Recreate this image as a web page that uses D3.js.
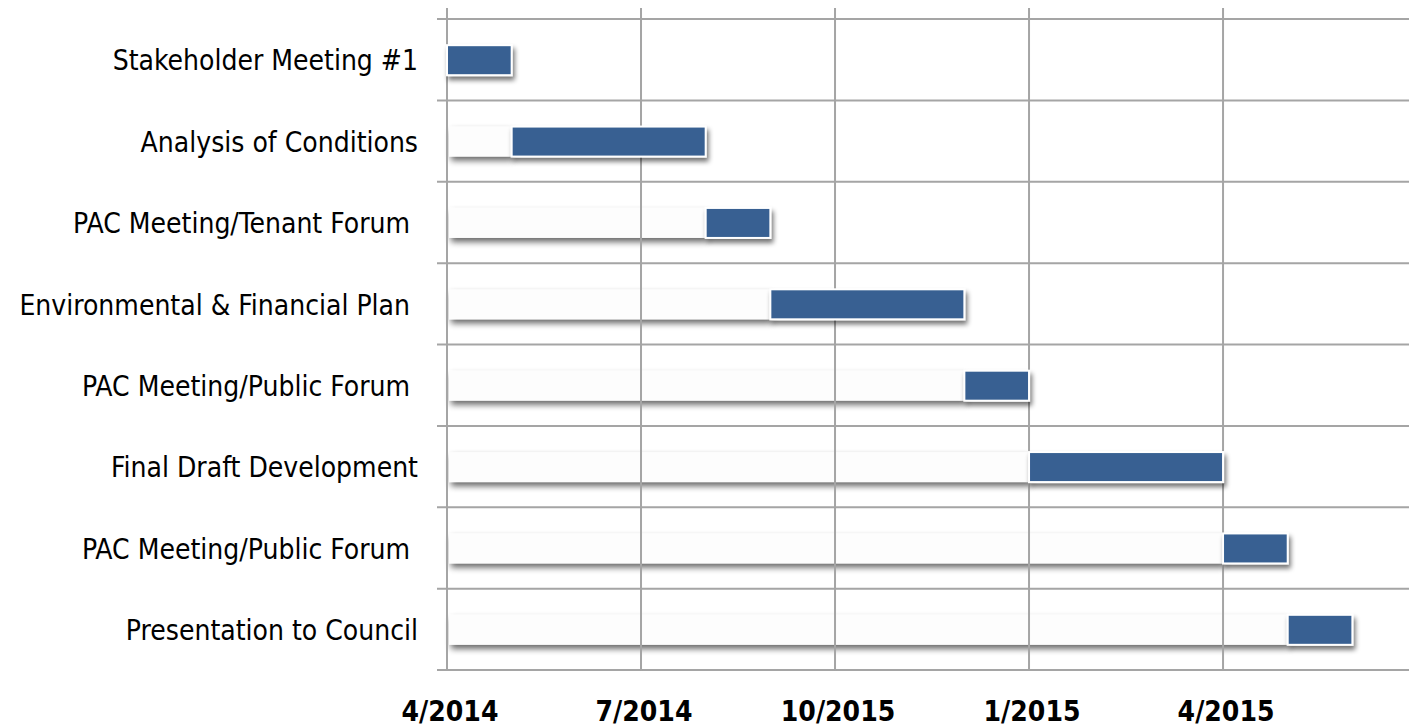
<!DOCTYPE html>
<html>
<head>
<meta charset="utf-8">
<script src="https://cdn.jsdelivr.net/npm/d3@7"></script>
<style>
  body { margin: 0; background: #fff; }
  text { white-space: pre; }
</style>
</head>
<body>
<div id="chart"></div>
<script>
// gantt chart of the plan schedule, months counted from 4/2014

const tasks = [
    "Stakeholder Meeting #1",
    "Analysis of Conditions",
    "PAC Meeting/Tenant Forum ",
    "Environmental & Financial Plan ",
    "PAC Meeting/Public Forum ",
    "Final Draft Development",
    "PAC Meeting/Public Forum ",
    "Presentation to Council"
];
const startMonth = [0, 1, 4, 5, 8, 9, 12, 13];
const durationMonths = [1, 3, 1, 3, 1, 3, 1, 1];
const tickMonths = [0, 3, 6, 9, 12];
const tickLabels = ["4/2014", "7/2014", "10/2015", "1/2015", "4/2015"];

const width = 1409, height = 727;
const margin = { top: 19, left: 447, bottom: 57 };

let svg = d3.select('#chart')
    .append('svg')
    .attr('width', width)
    .attr('height', height);

// drop shadows: one for the blue bars, a softer one for the empty lead-in bars
let defs = svg.append('defs');
function addShadow(id, blur, dy, alpha) {
    let f = defs.append('filter')
        .attr('id', id)
        .attr('x', '-10%').attr('y', '-50%')
        .attr('width', '130%').attr('height', '220%');
    f.append('feGaussianBlur').attr('in', 'SourceAlpha').attr('stdDeviation', blur);
    f.append('feOffset').attr('dx', 2).attr('dy', dy);
    f.append('feComponentTransfer').append('feFuncA').attr('type', 'linear').attr('slope', alpha);
    let merge = f.append('feMerge');
    merge.append('feMergeNode');
    merge.append('feMergeNode').attr('in', 'SourceGraphic');
}
addShadow('shadow', 2.5, 3.5, 0.55);
addShadow('shadow-lead', 3.2, 4, 0.6);

let xScale = d3.scaleLinear()
    .domain([0, 15])
    .range([margin.left, margin.left + 15 * 64.67]);

let yScale = d3.scaleBand()
    .domain(d3.range(tasks.length))
    .range([margin.top, height - margin.bottom])
    .paddingInner(0);

const barH = 30;
let rowY = i => yScale(i) + yScale.bandwidth() / 2 - barH / 2 + 0.5;

//Empty lead-in bars: only their shadow really shows
let lead = startMonth
    .map((s, i) => ({ i: i, s: s }))
    .filter(d => d.s > 0);

svg.append('g')
    .selectAll('rect')
    .data(lead)
    .join('rect')
    .attr('x', xScale(0) + 2)
    .attr('y', d => rowY(d.i))
    .attr('width', d => xScale(d.s) - xScale(0) - 2)
    .attr('height', barH)
    .attr('fill', '#fdfdfd')
    .attr('filter', 'url(#shadow-lead)');

//Grid lines
let grid = svg.append('g').attr('stroke', '#a5a5a5').attr('stroke-width', 2);
let bottomY = yScale(tasks.length - 1) + yScale.bandwidth();

grid.selectAll('line.h')
    .data(d3.range(tasks.length + 1))
    .join('line')
    .attr('class', 'h')
    .attr('x1', xScale(0) - 10)
    .attr('x2', width)
    .attr('y1', d => d < tasks.length ? yScale(d) : bottomY)
    .attr('y2', d => d < tasks.length ? yScale(d) : bottomY);

grid.selectAll('line.v')
    .data(tickMonths)
    .join('line')
    .attr('class', 'v')
    .attr('x1', d => xScale(d))
    .attr('x2', d => xScale(d))
    .attr('y1', margin.top - 11)
    .attr('y2', bottomY + 1);

//Task bars
svg.append('g')
    .selectAll('rect')
    .data(tasks)
    .join('rect')
    .attr('x', (d, i) => xScale(startMonth[i]))
    .attr('y', (d, i) => rowY(i))
    .attr('width', (d, i) => xScale(startMonth[i] + durationMonths[i]) - xScale(startMonth[i]))
    .attr('height', barH)
    .attr('fill', '#376092')
    .attr('stroke', '#ffffff')
    .attr('stroke-width', 2)
    .attr('filter', 'url(#shadow)');

//Task labels
svg.append('g')
    .selectAll('text')
    .data(tasks)
    .join('text')
    .attr('x', 418)
    .attr('y', (d, i) => yScale(i) + yScale.bandwidth() / 2 + 1)
    .attr('dy', '0.35em')
    .attr('text-anchor', 'end')
    .attr('font-family', '"Liberation Sans Narrow", "DejaVu Sans Condensed", sans-serif')
    .attr('font-size', '28px')
    .attr('fill', '#000')
    .text(d => d);

//Axis labels
svg.append('g')
    .selectAll('text')
    .data(tickMonths)
    .join('text')
    .attr('x', d => xScale(d) + 3)
    .attr('y', 721)
    .attr('text-anchor', 'middle')
    .attr('font-family', '"Liberation Sans Narrow", "DejaVu Sans Condensed", sans-serif')
    .attr('font-weight', 'bold')
    .attr('font-size', '28px')
    .attr('fill', '#000')
    .text((d, i) => tickLabels[i]);
</script>
</body>
</html>
